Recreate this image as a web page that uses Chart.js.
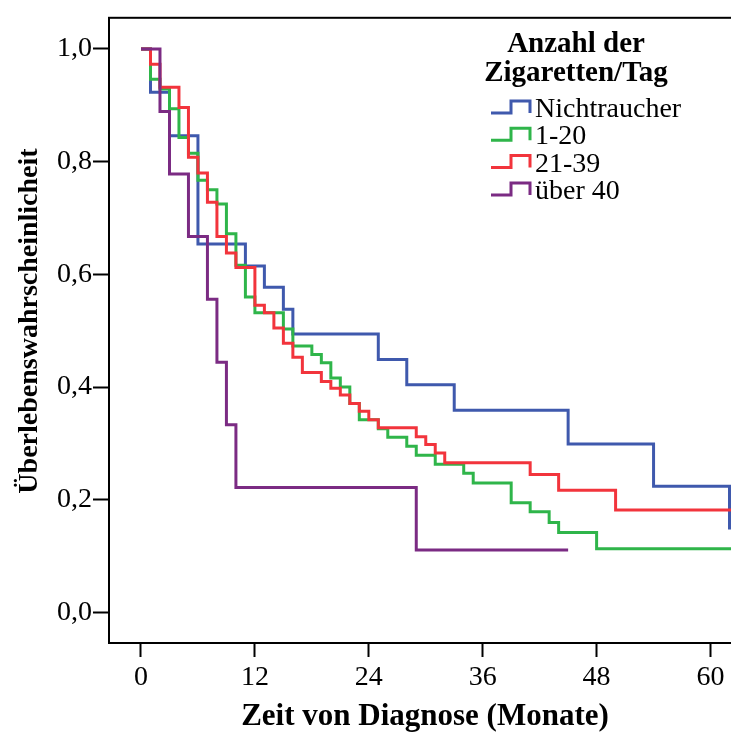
<!DOCTYPE html>
<html>
<head>
<meta charset="utf-8">
<script src="https://cdn.jsdelivr.net/npm/chart.js@4.4.0/dist/chart.umd.min.js"></script>
<style>
  html, body { margin: 0; padding: 0; background: #fff; overflow: hidden; }
  #wrap { width: 735px; height: 734px; }
</style>
</head>
<body>
<div id="wrap"><canvas id="chart" width="735" height="734"></canvas></div>
<script>
// Kaplan-Meier steps (months, survival probability)
const nichtraucherZeit = [0, 1, 3, 6, 11, 13, 15, 16, 25, 28, 33, 45, 54, 62, 63];
const nichtraucherWert = [1.0, 0.923, 0.846, 0.654, 0.615, 0.577, 0.538, 0.494, 0.449, 0.404, 0.359, 0.299, 0.224, 0.150, 0.150];

const leichtZeit = [0, 1, 2, 3, 4, 5, 6, 7, 8, 9, 10, 11, 12, 15, 16, 18, 19, 20, 21, 22, 23, 25, 26, 28, 29, 31, 34, 35, 39, 41, 43, 44, 48, 63];
const leichtWert = [1.0, 0.946, 0.929, 0.894, 0.843, 0.815, 0.767, 0.750, 0.725, 0.672, 0.616, 0.560, 0.532, 0.503, 0.473, 0.458, 0.443, 0.416, 0.400, 0.371, 0.342, 0.326, 0.311, 0.295, 0.279, 0.263, 0.247, 0.230, 0.195, 0.179, 0.160, 0.142, 0.113, 0.113];

const mittelZeit = [0, 1, 2, 4, 5, 6, 7, 8, 9, 10, 12, 13, 14, 15, 16, 17, 19, 20, 21, 22, 23, 24, 25, 29, 30, 31, 32, 41, 44, 50, 63];
const mittelWert = [1.0, 0.973, 0.932, 0.896, 0.808, 0.780, 0.728, 0.667, 0.638, 0.612, 0.545, 0.532, 0.505, 0.478, 0.453, 0.426, 0.410, 0.398, 0.386, 0.371, 0.357, 0.342, 0.328, 0.312, 0.298, 0.283, 0.266, 0.245, 0.217, 0.182, 0.182];

const starkZeit = [0, 2, 3, 5, 7, 8, 9, 10, 29, 45];
const starkWert = [1.0, 0.889, 0.778, 0.667, 0.556, 0.444, 0.333, 0.222, 0.111, 0.111];

const gruppen = ['Nichtraucher', '1-20', '21-39', 'über 40'];
const farben = ['#3f59ad', '#2fb54a', '#f2343c', '#7b2b83'];

const xTicks = [0, 12, 24, 36, 48, 60];
const yTicks = [0, 0.2, 0.4, 0.6, 0.8, 1.0];
const yTickLabels = ['0,0', '0,2', '0,4', '0,6', '0,8', '1,0'];

const xTitel = 'Zeit von Diagnose (Monate)';
const yTitel = 'Überlebenswahrscheinlicheit';

function toPoints(zeit, wert) {
  return zeit.map((t, i) => ({ x: t, y: wert[i] }));
}

const serie = [
  toPoints(nichtraucherZeit, nichtraucherWert),
  toPoints(leichtZeit, leichtWert),
  toPoints(mittelZeit, mittelWert),
  toPoints(starkZeit, starkWert)
];

// frame around plot area
const rahmen = {
  id: 'rahmen',
  beforeDatasetsDraw(chart) {
    const { ctx, chartArea: a } = chart;
    ctx.save();
    ctx.strokeStyle = '#000';
    ctx.lineWidth = 2;
    ctx.strokeRect(a.left, a.top, a.right - a.left, a.bottom - a.top);
    ctx.restore();
  }
};

// axis titles and legend with step icons, like the SPSS output
const stufenLegende = {
  id: 'stufenLegende',
  afterDraw(chart) {
    const ctx = chart.ctx;
    ctx.save();
    ctx.fillStyle = '#000';
    ctx.textAlign = 'center';
    ctx.textBaseline = 'middle';
    ctx.font = 'bold 31px "Liberation Serif"';
    ctx.fillText(xTitel, 425, 717);
    ctx.save();
    ctx.translate(30, 321);
    ctx.rotate(-Math.PI / 2);
    ctx.font = 'bold 28px "Liberation Serif"';
    ctx.fillText(yTitel, 0, 0);
    ctx.restore();

    ctx.textBaseline = 'alphabetic';
    ctx.font = 'bold 29px "Liberation Serif"';
    ctx.fillText('Anzahl der', 576, 52);
    ctx.fillText('Zigaretten/Tag', 576, 81);
    ctx.textAlign = 'left';
    ctx.font = '28px "Liberation Serif"';
    chart.data.datasets.forEach((ds, i) => {
      const y = 113 + i * 27.3;
      ctx.strokeStyle = ds.borderColor;
      ctx.lineWidth = 3;
      ctx.beginPath();
      ctx.moveTo(491, y); ctx.lineTo(511, y); ctx.lineTo(511, y - 12);
      ctx.lineTo(530, y - 12); ctx.lineTo(530, y);
      ctx.stroke();
      ctx.fillText(ds.label, 535, y + 4);
    });
    ctx.restore();
  }
};

const ctx = document.getElementById('chart').getContext('2d');
new Chart(ctx, {
  type: 'line',
  data: {
    datasets: serie.map((pts, i) => ({
      label: gruppen[i],
      data: pts,
      borderColor: farben[i],
      borderWidth: 3,
      stepped: true,
      fill: false,
      pointRadius: 0,
      order: 3 - i
    }))
  },
  options: {
    responsive: false,
    animation: false,
    devicePixelRatio: 1,
    layout: { padding: { top: 14, right: 0, bottom: 0, left: 0 } },
    plugins: { legend: { display: false }, tooltip: { enabled: false } },
    scales: {
      x: {
        type: 'linear', min: -3.371, max: 62.58,
        afterBuildTicks: s => { s.ticks = xTicks.map(v => ({ value: v })); },
        afterFit: s => { s.height = 91; },
        ticks: { color: '#000', font: { family: 'Liberation Serif', size: 28 }, padding: 4, maxRotation: 0 },
        grid: { drawOnChartArea: false, drawTicks: true, tickLength: 14, tickWidth: 2, tickColor: '#000' },
        border: { display: true, color: '#000', width: 2 }
      },
      y: {
        type: 'linear', min: -0.054, max: 1.0552,
        afterBuildTicks: s => { s.ticks = yTicks.map(v => ({ value: v })); },
        afterFit: s => { s.width = 109; },
        ticks: {
          color: '#000', font: { family: 'Liberation Serif', size: 28 }, padding: 1,
          callback: v => yTickLabels[yTicks.indexOf(v)]
        },
        grid: { drawOnChartArea: false, drawTicks: true, tickLength: 16, tickWidth: 2, tickColor: '#000' },
        border: { display: true, color: '#000', width: 2 }
      }
    }
  },
  plugins: [rahmen, stufenLegende]
});
</script>
</body>
</html>
